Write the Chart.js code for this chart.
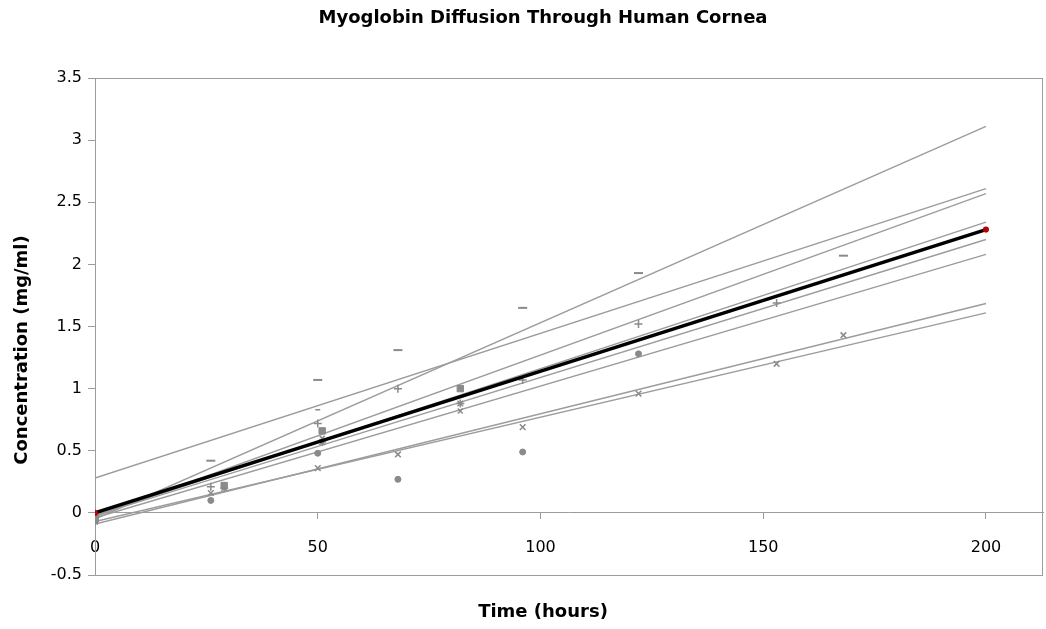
<!DOCTYPE html>
<html lang="en">
<head>
<meta charset="UTF-8" />
<title>Myoglobin Diffusion Through Human Cornea</title>
<script src="https://cdn.jsdelivr.net/npm/chart.js"></script>
<style>
  body { margin: 0; padding: 0; background: #fff; }
  #wrap { width: 1046px; height: 629px; }
</style>
</head>
<body>
<div id="wrap"><canvas id="diffChart"></canvas></div>
<script>
const chartTitle = 'Myoglobin Diffusion Through Human Cornea';
const xTitle = 'Time (hours)';
const yTitle = 'Concentration (mg/ml)';

// samples per cornea: time (hours) and concentration (mg/ml)
const dashTime = [0, 26, 50, 68, 96, 122, 168];
const dashConc = [-0.03, 0.42, 1.07, 1.31, 1.65, 1.93, 2.07];

const plusTime = [0, 26, 50, 68, 96, 122, 153];
const plusConc = [-0.05, 0.21, 0.72, 1.00, 1.07, 1.52, 1.69];

const crossTime = [0, 26, 50, 68, 96, 122, 153, 168];
const crossConc = [-0.06, 0.16, 0.36, 0.47, 0.69, 0.96, 1.20, 1.43];

const dotTime = [0, 26, 50, 68, 96, 122];
const dotConc = [-0.04, 0.10, 0.48, 0.27, 0.49, 1.28];

const squareTime = [0, 29, 51, 82];
const squareConc = [-0.05, 0.22, 0.66, 1.00];

const starTime = [0, 29, 51, 82];
const starConc = [-0.07, 0.20, 0.57, 0.88];

const hashTime = [0, 29, 51, 82];
const hashConc = [-0.04, 0.21, 0.60, 0.82];

const shortTime = [0, 50];
const shortConc = [-0.02, 0.83];

// fitted lines, value at 0 h and at 200 h
const trendTime = [0, 200];
const trendStart = [-0.05, 0.28, -0.03, -0.02, -0.02, -0.04, -0.09, -0.07];
const trendEnd = [3.11, 2.61, 2.57, 2.34, 2.20, 2.08, 1.685, 1.61];
const meanConc = [0, 2.28];

const xTicks = [0, 50, 100, 150, 200];

const GREY = '#8a8a8a';
const LINE_GREY = '#9c9c9c';
const FONT = 'DejaVu Sans';

const pts = (xs, ys) => xs.map((x, i) => ({ x: x, y: ys[i] }));

function markerSet(xs, ys, style, r, bw) {
  return {
    data: pts(xs, ys),
    showLine: false,
    pointStyle: style,
    pointRadius: r,
    pointBorderWidth: bw,
    pointBorderColor: GREY,
    pointBackgroundColor: GREY,
    order: 1
  };
}

const datasets = [];

trendStart.forEach((b, i) => {
  datasets.push({
    data: pts(trendTime, [b, trendEnd[i]]),
    showLine: true,
    borderColor: LINE_GREY,
    borderWidth: 1.4,
    pointRadius: 0,
    order: 2
  });
});

datasets.push(markerSet(dashTime, dashConc, 'line', 4.5, 2));
datasets.push(markerSet(plusTime, plusConc, 'cross', 4, 1.5));
datasets.push(markerSet(crossTime, crossConc, 'crossRot', 4, 1.5));
datasets.push(markerSet(dotTime, dotConc, 'circle', 3, 1));
datasets.push(markerSet(squareTime, squareConc, 'rect', 4.5, 1));
datasets.push(markerSet(starTime, starConc, 'star', 4, 1.4));
datasets.push(markerSet(hashTime, hashConc, 'crossRot', 3.5, 1.5));
datasets.push(markerSet(shortTime, shortConc, 'line', 2.5, 1.5));

datasets.push({
  data: pts(trendTime, meanConc),
  showLine: true,
  borderColor: '#000',
  borderWidth: 3.5,
  pointRadius: 1.3,
  pointBackgroundColor: '#b00',
  pointBorderColor: '#b00',
  order: 0
});

// grey frame round the plot area (Excel style)
const plotFrame = {
  id: 'plotFrame',
  beforeDatasetsDraw(chart) {
    const { ctx, chartArea: a } = chart;
    ctx.save();
    ctx.strokeStyle = LINE_GREY;
    ctx.lineWidth = 1;
    ctx.strokeRect(a.left + 0.5, a.top + 0.5, a.right - a.left - 1, a.bottom - a.top);
    ctx.restore();
  }
};

// chart and axis titles, placed like the Excel original
const titles = {
  id: 'titles',
  afterDraw(chart) {
    const ctx = chart.ctx;
    ctx.save();
    ctx.fillStyle = '#000';
    ctx.font = 'bold 18px "' + FONT + '"';
    ctx.textAlign = 'center';
    ctx.textBaseline = 'middle';
    ctx.fillText(chartTitle, 543, 18);
    ctx.fillText(xTitle, 543, 612);
    ctx.translate(22, 350);
    ctx.rotate(-Math.PI / 2);
    ctx.fillText(yTitle, 0, 0);
    ctx.restore();
  }
};

new Chart(document.getElementById('diffChart'), {
  type: 'scatter',
  data: { datasets: datasets },
  plugins: [plotFrame, titles],
  options: {
    responsive: true,
    maintainAspectRatio: false,
    animation: false,
    layout: { autoPadding: false, padding: { left: 0, right: 3, top: 78, bottom: 54 } },
    plugins: {
      legend: { display: false },
      tooltip: { enabled: false },
      title: { display: false }
    },
    scales: {
      x: {
        type: 'linear',
        position: { y: 0 },
        min: 0,
        max: 212.8,
        afterFit: (s) => { s.height = 0; s.paddingLeft = 0; s.paddingRight = 0; },
        afterBuildTicks: (s) => { s.ticks = xTicks.map(v => ({ value: v })); },
        border: { color: LINE_GREY, width: 1 },
        grid: { drawOnChartArea: false, drawTicks: true, tickLength: 6, color: LINE_GREY },
        ticks: { color: '#000', padding: 19, font: { family: FONT, size: 16 } }
      },
      y: {
        min: -0.5,
        max: 3.5,
        afterFit: (s) => { s.width = 95; },
        border: { color: LINE_GREY, width: 1 },
        grid: { drawOnChartArea: false, drawTicks: true, tickLength: 7, color: LINE_GREY },
        ticks: {
          stepSize: 0.5,
          color: '#000',
          padding: 6,
          font: { family: FONT, size: 16 },
          callback: (v) => String(v)
        }
      }
    }
  }
});
</script>
</body>
</html>
